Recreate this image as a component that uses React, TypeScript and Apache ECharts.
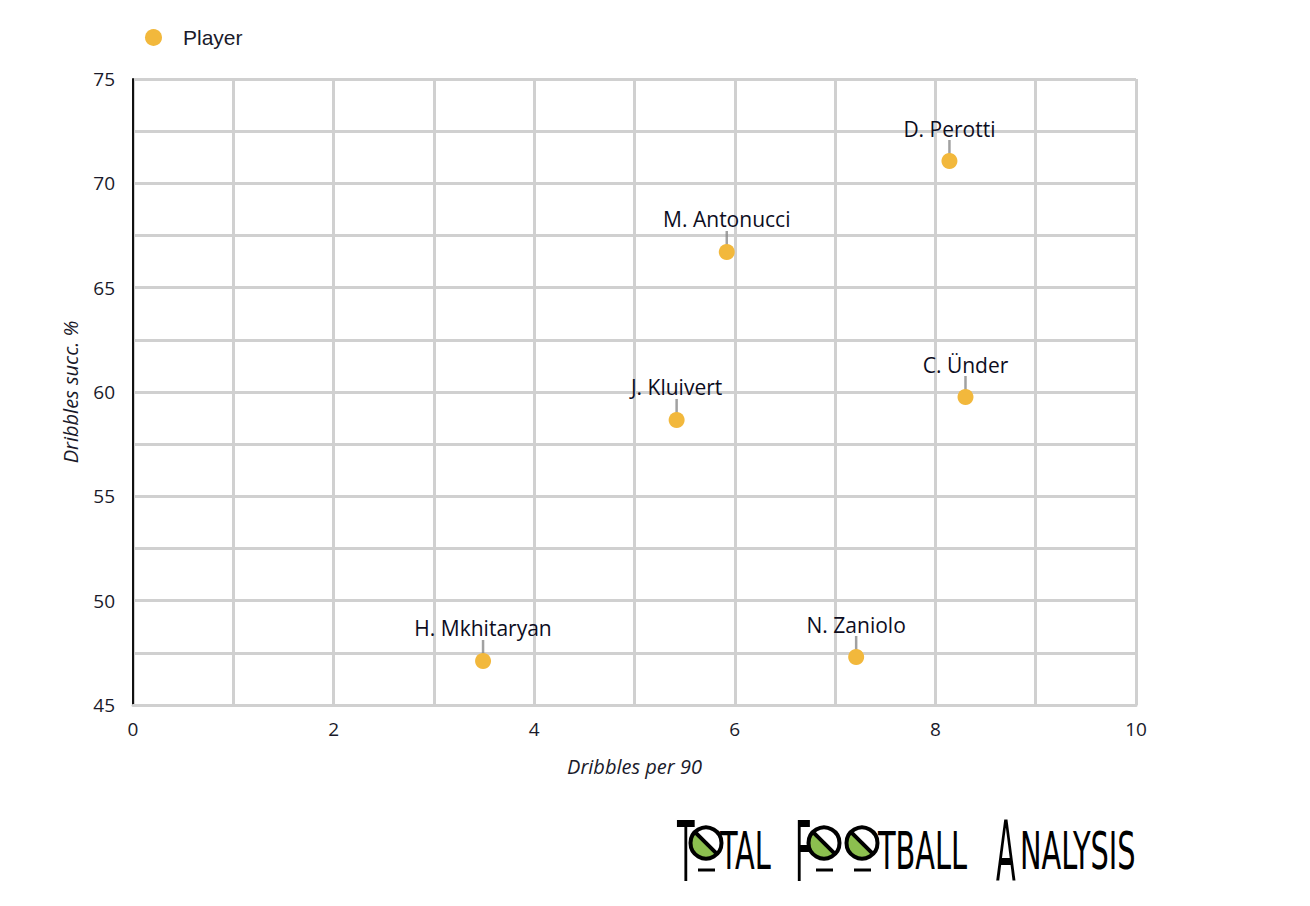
import React, { useEffect, useRef } from "react";
import * as echarts from "echarts";

const playerNames = ["D. Perotti", "M. Antonucci", "C. Ünder", "J. Kluivert", "H. Mkhitaryan", "N. Zaniolo"];
const dribblesPer90 = [8.14, 5.92, 8.3, 5.42, 3.49, 7.21];
const dribblesSucc = [71.07, 66.71, 59.76, 58.66, 47.11, 47.3];
const xTicks = [0, 2, 4, 6, 8, 10];
const yTicks = [45, 50, 55, 60, 65, 70, 75];

const logoFont = "'DejaVu Sans Condensed', 'DejaVu Sans', sans-serif";

function smallText(text: string, x: number) {
  return {
    type: "text",
    x,
    y: 825,
    scaleY: 1.6,
    style: { text, fontFamily: logoFont, fontSize: 32, fill: "#000", verticalAlign: "top" },
  };
}
function tallText(text: string, x: number) {
  return {
    type: "text",
    x,
    y: 810,
    scaleY: 2.6,
    style: { text, fontFamily: logoFont, fontSize: 32, fill: "#000", verticalAlign: "top" },
  };
}
function ballO(cx: number, cy: number) {
  const r = 15.5;
  const d = r * Math.SQRT1_2;
  return {
    type: "group",
    children: [
      { type: "circle", shape: { cx, cy, r }, style: { fill: "#fff" } },
      {
        type: "sector",
        shape: { cx, cy, r, r0: 0, startAngle: Math.PI / 4, endAngle: (5 * Math.PI) / 4 },
        style: { fill: "#8cbf4f" },
      },
      { type: "circle", shape: { cx, cy, r }, style: { fill: "none", stroke: "#000", lineWidth: 4 } },
      { type: "line", shape: { x1: cx - d, y1: cy - d, x2: cx + d, y2: cy + d }, style: { stroke: "#000", lineWidth: 4 } },
      { type: "line", shape: { x1: cx - 8, y1: cy + 27, x2: cx + 9, y2: cy + 27 }, style: { stroke: "#000", lineWidth: 3 } },
    ],
  };
}

export default function App() {
  const ref = useRef<HTMLDivElement>(null);
  useEffect(() => {
    document.body.style.margin = "0";
    const chart = echarts.init(ref.current!, null, { renderer: "svg" });
    const data = playerNames.map((n, i) => ({ name: n, value: [dribblesPer90[i], dribblesSucc[i]] }));
    const labelFont = "'Open Sans', 'Noto Sans', sans-serif";
    chart.setOption({
      animation: false,
      backgroundColor: "#ffffff",
      legend: {
        left: 140,
        top: 22,
        itemWidth: 17,
        itemHeight: 17,
        itemGap: 10,
        data: [{ name: "Player", icon: "circle" }],
        textStyle: { fontFamily: "'Liberation Sans', Arial, sans-serif", fontSize: 21, color: "#1a1a2a", padding: [0, 0, 0, 16] },
      },
      grid: { left: 133, right: 174, top: 79, bottom: 201 },
      xAxis: {
        type: "value",
        min: 0,
        max: 10,
        interval: 1,
        name: "Dribbles per 90",
        nameLocation: "middle",
        nameGap: 51,
        nameTextStyle: { fontFamily: labelFont, fontStyle: "italic", fontSize: 20, color: "#1a1a2a" },
        axisLine: { show: true, lineStyle: { color: "#d0d0d0", width: 3 } },
        axisTick: { show: false },
        axisLabel: {
          margin: 14,
          fontFamily: labelFont,
          fontSize: 19,
          color: "#1a1a2a",
          formatter: (v: number) => (xTicks.includes(v) ? String(v) : ""),
        },
        splitLine: { show: true, lineStyle: { color: "#d0d0d0", width: 3 } },
      },
      yAxis: {
        type: "value",
        min: 45,
        max: 75,
        interval: 2.5,
        name: "Dribbles succ. %",
        nameLocation: "middle",
        nameGap: 53,
        nameRotate: 90,
        nameTextStyle: { fontFamily: labelFont, fontStyle: "italic", fontSize: 20, color: "#1a1a2a" },
        axisLine: { show: true, lineStyle: { color: "#111", width: 2 } },
        axisTick: { show: false },
        axisLabel: {
          margin: 18,
          fontFamily: labelFont,
          fontSize: 19,
          color: "#1a1a2a",
          formatter: (v: number) => (yTicks.includes(v) ? String(v) : ""),
        },
        splitLine: { show: true, lineStyle: { color: "#d0d0d0", width: 3 } },
      },
      series: [
        {
          name: "leader",
          type: "scatter",
          data,
          symbol: "rect",
          symbolSize: [2.5, 14],
          symbolOffset: [0, -14],
          itemStyle: { color: "#8a8a8a" },
          silent: true,
          z: 2,
        },
        {
          name: "Player",
          type: "scatter",
          data,
          symbol: "circle",
          symbolSize: 16,
          itemStyle: { color: "#f2b83c", opacity: 1 },
          z: 3,
          label: {
            show: true,
            position: "top",
            distance: 14,
            formatter: (p: any) => p.name,
            fontFamily: labelFont,
            fontSize: 21,
            color: "#0d0d1e",
            opacity: 1,
          },
        },
      ],
      graphic: [
        tallText("T", 677),
        ballO(706, 843),
        smallText("TAL", 720),
        tallText("F", 795),
        ballO(824, 843),
        ballO(862, 843),
        smallText("TBALL", 878),
        tallText("A", 996),
        smallText("NALYSIS", 1020),
      ],
    });
    return () => chart.dispose();
  }, []);
  return <div ref={ref} style={{ width: 1310, height: 906 }} />;
}
